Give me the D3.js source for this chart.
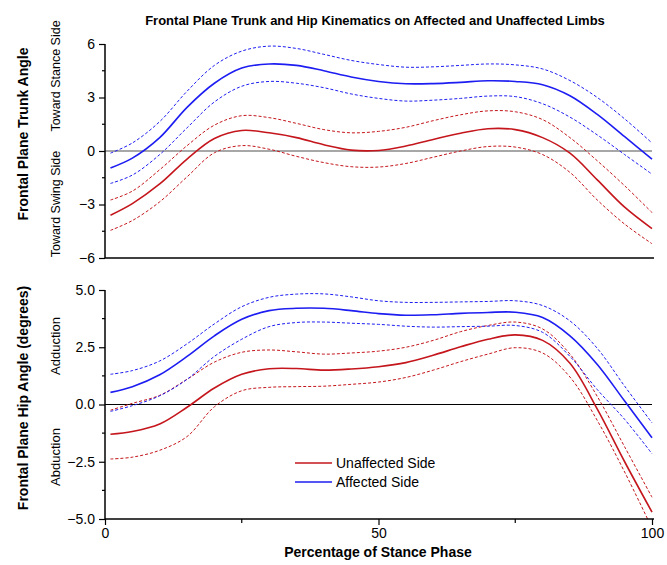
<!DOCTYPE html>
<html>
<head>
<meta charset="utf-8">
<script src="https://cdn.jsdelivr.net/npm/d3@7"></script>
<style>
  body { margin: 0; background: #fff; }
  text { font-family: "Liberation Sans", Arial, sans-serif; }
</style>
</head>
<body>
<svg id="chart" width="667" height="565"></svg>
<script>
// stance phase (%)
const pct = [1, 5, 10, 15, 20, 25, 30, 35, 40, 45, 50, 55, 60, 65, 70, 75, 80, 85, 90, 95, 100];

// trunk angle (deg)
const trunkAffMean  = [-0.95, -0.4, 0.75, 2.45, 3.8, 4.65, 4.88, 4.8, 4.5, 4.15, 3.9, 3.77, 3.78, 3.85, 3.94, 3.9, 3.72, 3.1, 2.05, 0.8, -0.45];
const trunkAffUp    = [-0.12, 0.45, 1.65, 3.35, 4.8, 5.6, 5.88, 5.75, 5.42, 5.08, 4.85, 4.7, 4.72, 4.8, 4.88, 4.83, 4.6, 3.95, 3.0, 1.8, 0.45];
const trunkAffLo    = [-1.82, -1.35, -0.2, 1.3, 2.75, 3.63, 3.9, 3.8, 3.55, 3.2, 2.95, 2.8, 2.85, 2.95, 3.08, 3.05, 2.65, 1.9, 0.9, -0.2, -1.3];
const trunkUnaMean  = [-3.6, -2.95, -1.85, -0.45, 0.7, 1.15, 1.02, 0.75, 0.35, 0.05, 0.03, 0.28, 0.65, 1.0, 1.25, 1.2, 0.75, -0.12, -1.62, -3.15, -4.35];
const trunkUnaUp    = [-2.75, -2.25, -1.05, 0.3, 1.45, 1.98, 1.87, 1.55, 1.2, 1.02, 1.1, 1.33, 1.7, 2.03, 2.25, 2.2, 1.76, 0.75, -0.55, -1.95, -3.45];
const trunkUnaLo    = [-4.45, -3.9, -2.85, -1.45, -0.1, 0.3, 0.1, -0.3, -0.65, -0.88, -0.9, -0.7, -0.35, 0.0, 0.25, 0.22, -0.2, -1.2, -2.75, -4.1, -5.2];

// hip angle (deg)
const hipAffMean = [0.53, 0.78, 1.3, 2.1, 3.0, 3.72, 4.1, 4.2, 4.2, 4.1, 3.97, 3.9, 3.92, 3.98, 4.02, 4.03, 3.8, 3.0, 1.75, 0.15, -1.45];
const hipAffUp   = [1.32, 1.48, 1.9, 2.65, 3.52, 4.27, 4.68, 4.82, 4.83, 4.7, 4.53, 4.46, 4.46, 4.48, 4.5, 4.53, 4.32, 3.65, 2.45, 0.8, -0.8];
const hipAffLo   = [-0.3, -0.05, 0.38, 1.1, 2.1, 2.85, 3.4, 3.58, 3.6, 3.55, 3.5, 3.42, 3.38, 3.4, 3.42, 3.45, 3.15, 2.1, 0.65, -0.65, -2.15];
const hipUnaMean = [-1.3, -1.18, -0.85, -0.12, 0.72, 1.32, 1.56, 1.57, 1.5, 1.55, 1.65, 1.83, 2.15, 2.52, 2.85, 3.04, 2.8, 1.8, -0.2, -2.5, -4.7];
const hipUnaUp   = [-0.25, 0.05, 0.4, 1.1, 1.85, 2.28, 2.38, 2.3, 2.2, 2.25, 2.33, 2.5, 2.8, 3.18, 3.45, 3.6, 3.3, 2.2, 0.35, -1.85, -4.05];
const hipUnaLo   = [-2.38, -2.3, -2.0, -1.4, -0.1, 0.6, 0.75, 0.78, 0.8, 0.88, 0.98, 1.18, 1.5, 1.87, 2.2, 2.48, 2.25, 1.2, -0.7, -2.95, -5.4];

const xTicks = [0, 50, 100];
const trunkTicks = [-6, -3, 0, 3, 6];
const hipTicks = [-5, -2.5, 0, 2.5, 5];

const RED = "#c4161c", BLUE = "#1d1df2";

const svg = d3.select("#chart");
const x = d3.scaleLinear().domain([0, 100]).range([105, 652]);
const yTop = d3.scaleLinear().domain([-6, 6]).range([258, 44]);
const yBot = d3.scaleLinear().domain([-5, 5]).range([519, 290]);

svg.append("defs").append("clipPath").attr("id", "clipBot")
    .append("rect").attr("x", 100).attr("y", 285).attr("width", 560).attr("height", 234);

function panel(y, ticks, minor, series, zeroColor, zeroWidth, clip) {
    const g = svg.append("g");
    // zero line
    g.append("line")
        .attr("x1", x(0)).attr("x2", x(100))
        .attr("y1", y(0)).attr("y2", y(0))
        .attr("stroke", zeroColor).attr("stroke-width", zeroWidth);

    const line = d3.line()
        .x((d, i) => x(pct[i]))
        .y(d => y(d))
        .curve(d3.curveCatmullRom);

    const lines = g.append("g");
    if (clip) lines.attr("clip-path", "url(#clipBot)");
    series.forEach(s => {
        lines.append("path")
            .attr("d", line(s.values))
            .attr("fill", "none")
            .attr("stroke", s.color)
            .attr("stroke-width", s.dash ? 1 : 1.6)
            .attr("stroke-dasharray", s.dash ? "3,2" : null);
    });

    // y axis
    const ya = g.append("g").attr("transform", `translate(${x(0)},0)`)
        .call(d3.axisLeft(y).tickValues(ticks).tickSize(6).tickPadding(4)
            .tickFormat(y === yBot ? d3.format(".1f") : d3.format("d")));
    ya.select(".domain").attr("stroke-width", 1.5).attr("d", `M0,${y.range()[0]}V${y.range()[1]}`);
    ya.selectAll(".tick line").attr("stroke-width", 1.2);
    ya.selectAll("text").attr("font-size", 14).attr("fill", "#000")
        .attr("font-family", "Liberation Sans, Arial, sans-serif");
    g.selectAll(".minor").data(minor).join("line")
        .attr("x1", x(0) - 3).attr("x2", x(0))
        .attr("y1", d => y(d)).attr("y2", d => y(d))
        .attr("stroke", "#000").attr("stroke-width", 1.2);

    // bottom line of panel
    g.append("line")
        .attr("x1", x(0)).attr("x2", x(100) + 2)
        .attr("y1", y.range()[0]).attr("y2", y.range()[0])
        .attr("stroke", "#000").attr("stroke-width", 1.5);
    return g;
}

panel(yTop, trunkTicks, [-4.5, -1.5, 1.5, 4.5], [
    { values: trunkUnaUp, color: RED, dash: true },
    { values: trunkUnaLo, color: RED, dash: true },
    { values: trunkUnaMean, color: RED },
    { values: trunkAffUp, color: BLUE, dash: true },
    { values: trunkAffLo, color: BLUE, dash: true },
    { values: trunkAffMean, color: BLUE }
], "#8a8a8a", 1.5, false);

panel(yBot, hipTicks, [-3.75, -1.25, 1.25, 3.75], [
    { values: hipUnaUp, color: RED, dash: true },
    { values: hipUnaLo, color: RED, dash: true },
    { values: hipUnaMean, color: RED },
    { values: hipAffUp, color: BLUE, dash: true },
    { values: hipAffLo, color: BLUE, dash: true },
    { values: hipAffMean, color: BLUE }
], "#000", 1, true);

// x axis
const xa = svg.append("g").attr("transform", `translate(0,${yBot.range()[0]})`)
    .call(d3.axisBottom(x).tickValues(xTicks).tickSize(6).tickPadding(3));
xa.select(".domain").remove();
xa.selectAll(".tick line").attr("stroke-width", 1.2);
xa.selectAll("text").attr("font-size", 14).attr("fill", "#000")
    .attr("font-family", "Liberation Sans, Arial, sans-serif");
svg.selectAll(".xminor").data([25, 75]).join("line")
    .attr("x1", d => x(d)).attr("x2", d => x(d))
    .attr("y1", yBot.range()[0]).attr("y2", yBot.range()[0] + 4)
    .attr("stroke", "#000").attr("stroke-width", 1.2);

// titles
svg.append("text").attr("x", 375).attr("y", 25).attr("text-anchor", "middle")
    .attr("font-size", 13).attr("font-weight", "bold")
    .text("Frontal Plane Trunk and Hip Kinematics on Affected and Unaffected Limbs");

svg.append("text").attr("x", 378).attr("y", 557).attr("text-anchor", "middle")
    .attr("font-size", 14).attr("font-weight", "bold")
    .text("Percentage of Stance Phase");

function vlabel(text, cx, cy, size, bold) {
    svg.append("text")
        .attr("transform", `translate(${cx},${cy}) rotate(-90)`)
        .attr("text-anchor", "middle")
        .attr("font-size", size)
        .attr("font-weight", bold ? "bold" : "normal")
        .text(text);
}
vlabel("Frontal Plane Trunk Angle", 28, 134, 14, true);
vlabel("Frontal Plane Hip Angle (degrees)", 28, 398, 14, true);
vlabel("Toward Stance Side", 60, 76, 12.5, false);
vlabel("Toward Swing Side", 60, 204, 12.5, false);
vlabel("Adduction", 60, 346, 13, false);
vlabel("Abduction", 60, 457, 13, false);

// legend
const legend = [
    { label: "Unaffected Side", color: RED },
    { label: "Affected Side", color: BLUE }
];
const lg = svg.append("g").attr("transform", "translate(295,463)");
lg.selectAll("g").data(legend).join("g")
    .attr("transform", (d, i) => `translate(0,${i * 19})`)
    .each(function (d) {
        const e = d3.select(this);
        e.append("line").attr("x1", 0).attr("x2", 37).attr("stroke", d.color).attr("stroke-width", 1.6);
        e.append("text").attr("x", 41).attr("y", 5).attr("font-size", 14).text(d.label);
    });
</script>
</body>
</html>
